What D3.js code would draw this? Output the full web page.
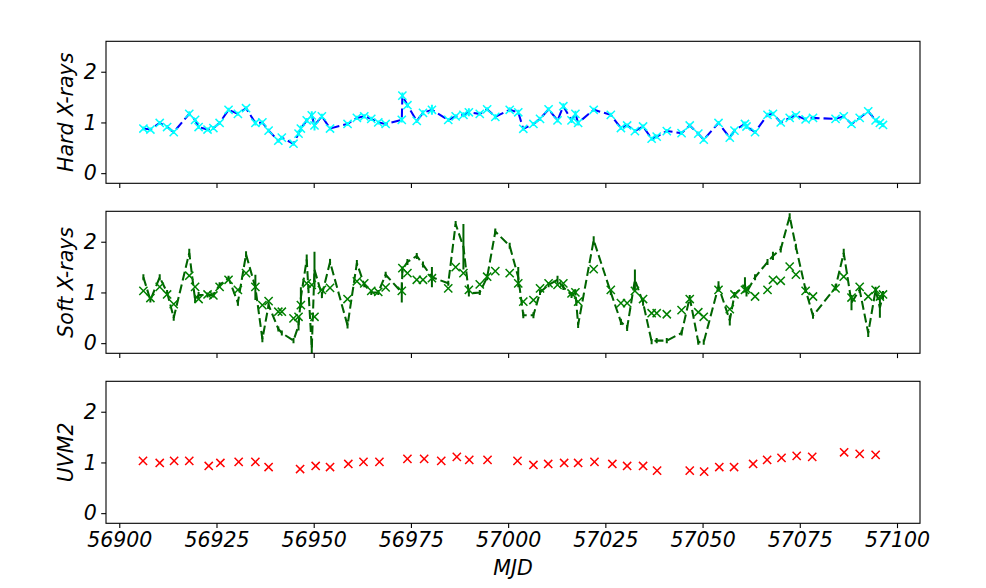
<!DOCTYPE html>
<html>
<head>
<meta charset="utf-8">
<script src="https://cdn.jsdelivr.net/npm/d3@7"></script>
<style>
  body { margin: 0; background: #fff; }
  text { font-family: 'DejaVu Sans', sans-serif; font-style: italic; }
</style>
</head>
<body>
<div id="chart"></div>
<script>
'use strict';

// X-ray observation times (MJD), shared by hard and soft bands
var xrayMjd = [
  56906.2, 56908.0, 56910.4, 56912.3, 56914.0, 56918.0, 56919.5, 56920.4, 56922.7, 56924.2,
  56925.8, 56928.1, 56930.5, 56932.6, 56935.0, 56936.8, 56938.4, 56940.9, 56941.8, 56944.8,
  56946.1, 56946.7, 56948.2, 56949.5, 56950.2, 56952.1, 56954.2, 56958.7, 56961.1, 56963.0,
  56964.8, 56966.6, 56968.5, 56972.65, 56972.8, 56974.1, 56976.5, 56978.1, 56980.4, 56984.6,
  56986.5, 56988.5, 56989.9, 56992.7, 56994.6, 56996.7, 57000.4, 57002.6, 57003.9, 57006.5,
  57008.2, 57010.4, 57012.7, 57014.2, 57016.3, 57017.3, 57018.0, 57022.0, 57026.4, 57029.0,
  57030.6, 57032.6, 57034.7, 57036.9, 57038.2, 57040.8, 57044.6, 57046.7, 57048.9, 57050.3,
  57054.1, 57057.0, 57058.2, 57060.9, 57061.3, 57063.5, 57066.7, 57068.1, 57070.1, 57072.4,
  57074.0, 57076.5, 57078.4, 57084.2, 57086.3, 57088.3, 57090.4, 57092.6, 57094.5, 57095.6,
  57096.4
];

var hardFlux = [
  0.88, 0.86, 0.99, 0.91, 0.81, 1.17, 1.05, 0.91, 0.86, 0.89,
  0.99, 1.25, 1.17, 1.28, 0.99, 1.00, 0.84, 0.64, 0.70, 0.58,
  0.78, 0.88, 1.04, 1.14, 0.94, 1.12, 0.88, 0.97, 1.09, 1.12,
  1.07, 1.00, 0.97, 1.05, 1.53, 1.34, 1.03, 1.19, 1.25, 1.05,
  1.12, 1.15, 1.20, 1.17, 1.26, 1.11, 1.25, 1.20, 0.875, 0.97,
  1.07, 1.26, 1.04, 1.32, 1.04, 1.17, 0.99, 1.25, 1.15, 0.89,
  0.94, 0.83, 0.92, 0.68, 0.72, 0.83, 0.79, 0.94, 0.78, 0.66,
  0.99, 0.70, 0.84, 0.97, 0.92, 0.81, 1.15, 1.17, 1.00, 1.09,
  1.14, 1.06, 1.09, 1.07, 1.12, 0.97, 1.09, 1.22, 1.04, 0.99,
  0.95
];

var hardErr = [
  0.04, 0.04, 0.04, 0.04, 0.04, 0.05, 0.04, 0.04, 0.04, 0.04,
  0.04, 0.04, 0.04, 0.04, 0.05, 0.04, 0.04, 0.04, 0.04, 0.04,
  0.05, 0.06, 0.05, 0.08, 0.10, 0.05, 0.04, 0.04, 0.04, 0.04,
  0.04, 0.04, 0.04, 0.05, 0.06, 0.05, 0.04, 0.05, 0.10, 0.04,
  0.04, 0.05, 0.08, 0.04, 0.04, 0.05, 0.05, 0.05, 0.04, 0.04,
  0.04, 0.04, 0.04, 0.06, 0.05, 0.06, 0.05, 0.04, 0.04, 0.04,
  0.04, 0.04, 0.04, 0.04, 0.04, 0.04, 0.04, 0.04, 0.04, 0.04,
  0.04, 0.04, 0.04, 0.05, 0.05, 0.04, 0.04, 0.04, 0.04, 0.04,
  0.04, 0.04, 0.04, 0.04, 0.04, 0.04, 0.04, 0.04, 0.04, 0.04,
  0.04
];

// soft band: markers and dashed line
var softFlux = [
  1.03, 0.89, 1.11, 0.96, 0.77, 1.33, 1.11, 0.87, 0.96, 0.94,
  1.11, 1.25, 1.05, 1.38, 1.11, 0.75, 0.83, 0.62, 0.62, 0.49,
  0.52, 0.75, 1.18, 1.15, 0.52, 1.05, 1.09, 0.87, 1.22, 1.18,
  1.03, 1.01, 1.10, 1.03, 1.48, 1.38, 1.25, 1.25, 1.28, 1.08,
  1.50, 1.38, 1.05, 1.16, 1.31, 1.42, 1.38, 1.18, 0.82, 0.85,
  1.08, 1.18, 1.15, 1.18, 0.98, 1.00, 0.82, 1.46, 1.05, 0.79,
  0.79, 1.03, 0.87, 0.59, 0.59, 0.57, 0.65, 0.87, 0.61, 0.52,
  1.05, 0.67, 0.96, 1.05, 1.07, 0.92, 1.05, 1.25, 1.23, 1.51,
  1.35, 1.03, 0.92, 1.08, 1.31, 0.90, 1.11, 0.92, 1.05, 0.92,
  0.96
];

var softLine = [
  1.30, 0.85, 1.30, 1.00, 0.50, 1.78, 0.85, 0.95, 0.95, 0.95,
  1.15, 1.28, 0.80, 1.75, 1.10, 0.08, 0.75, 0.28, 0.20, 0.05,
  0.35, 0.90, 1.65, -0.10, 1.45, 0.95, 1.60, 0.35, 1.58, 1.15,
  1.00, 1.00, 1.35, 1.00, 1.45, 1.60, 1.72, 1.55, 1.30, 1.18,
  2.35, 1.90, 0.98, 1.00, 1.30, 2.20, 1.92, 1.30, 0.55, 0.55,
  1.00, 1.15, 1.25, 1.10, 0.95, 1.00, 0.36, 2.03, 1.00, 0.42,
  0.30, 1.25, 0.80, 0.03, 0.05, 0.05, 0.20, 0.90, 0.02, 0.02,
  1.12, 0.45, 0.95, 1.15, 1.00, 1.30, 1.60, 1.72, 1.85, 2.50,
  1.90, 1.05, 0.54, 1.10, 1.78, 0.80, 1.05, 0.20, 1.05, 0.70,
  0.95
];

var softErr = [
  0.06, 0.05, 0.06, 0.05, 0.06, 0.08, 0.06, 0.06, 0.05, 0.05,
  0.05, 0.05, 0.06, 0.06, 0.25, 0.06, 0.05, 0.05, 0.05, 0.05,
  0.10, 0.20, 0.10, 0.15, 0.35, 0.06, 0.06, 0.06, 0.06, 0.05,
  0.05, 0.05, 0.06, 0.20, 0.06, 0.06, 0.06, 0.06, 0.20, 0.05,
  0.06, 0.45, 0.06, 0.05, 0.06, 0.06, 0.06, 0.20, 0.06, 0.06,
  0.05, 0.05, 0.08, 0.05, 0.06, 0.06, 0.06, 0.08, 0.05, 0.06,
  0.06, 0.20, 0.06, 0.05, 0.05, 0.05, 0.05, 0.05, 0.05, 0.05,
  0.10, 0.10, 0.06, 0.15, 0.08, 0.06, 0.06, 0.08, 0.06, 0.06,
  0.06, 0.06, 0.06, 0.06, 0.08, 0.15, 0.06, 0.08, 0.06, 0.20,
  0.08
];

// UVM2 times and flux
var uvMjd = [
  56906.1, 56910.4, 56914.1, 56918.0, 56923.0, 56926.0, 56930.7, 56935.0, 56938.4, 56946.5,
  56950.5, 56954.2, 56958.9, 56962.8, 56966.9, 56974.1, 56978.4, 56982.8, 56986.8, 56990.0,
  56994.7, 57002.4, 57006.5, 57010.3, 57014.4, 57018.0, 57022.2, 57026.8, 57030.6, 57034.7,
  57038.3, 57046.7, 57050.4, 57054.3, 57058.1, 57063.0, 57066.6, 57070.3, 57074.2, 57078.2,
  57086.4, 57090.4, 57094.5
];

var uvFlux = [
  1.03, 0.99, 1.03, 1.03, 0.93, 0.99, 1.01, 1.01, 0.91, 0.87,
  0.93, 0.91, 0.97, 1.01, 1.01, 1.07, 1.07, 1.03, 1.11, 1.05,
  1.05, 1.03, 0.95, 0.97, 0.99, 0.99, 1.01, 0.97, 0.93, 0.93,
  0.84, 0.84, 0.82, 0.91, 0.91, 0.97, 1.05, 1.09, 1.13, 1.11,
  1.20, 1.17, 1.15
];

var panelLabels = [ 'Hard X-rays', 'Soft X-rays', 'UVM2' ];
var xTicks = [ 56900, 56925, 56950, 56975, 57000, 57025, 57050, 57075, 57100 ];
var yTicks = [ 0, 1, 2 ];

var width = 986,
    height = 588,
    left = 106,
    right = 920,
    panelTops = [ 41.3, 211.3, 381.3 ],
    panelHeight = 142,
    fontSize = 20.5;

var svg = d3.select( '#chart' )
  .append( 'svg' )
    .attr( 'width', width )
    .attr( 'height', height );

// x limits like matplotlib autoscale: data extent padded by 5%
var allMjd = xrayMjd.concat( uvMjd );
var xMin = d3.min( allMjd ),
    xMax = d3.max( allMjd ),
    pad = ( xMax - xMin ) * 0.05;

var x = d3.scaleLinear()
  .domain( [ xMin - pad, xMax + pad ] )
  .range( [ left, right ] );

function xCross( g, data, xs, ys, color ) {
  var s = 4.1;
  g.selectAll( null )
    .data( data )
    .enter()
    .append( 'path' )
      .attr( 'd', function( d, i ) {
        var cx = x( xs[i] ), cy = ys( d );
        return 'M' + ( cx - s ) + ',' + ( cy - s ) + 'L' + ( cx + s ) + ',' + ( cy + s ) +
               'M' + ( cx - s ) + ',' + ( cy + s ) + 'L' + ( cx + s ) + ',' + ( cy - s );
      } )
      .style( 'stroke', color )
      .style( 'stroke-width', 1.5 )
      .style( 'fill', 'none' );
}

function errBars( g, vals, errs, xs, ys, color, w ) {
  g.selectAll( null )
    .data( vals )
    .enter()
    .append( 'line' )
      .attr( 'x1', function( d, i ) { return x( xs[i] ); } )
      .attr( 'x2', function( d, i ) { return x( xs[i] ); } )
      .attr( 'y1', function( d, i ) { return ys( d - errs[i] ); } )
      .attr( 'y2', function( d, i ) { return ys( d + errs[i] ); } )
      .style( 'stroke', color )
      .style( 'stroke-width', w );
}

function dashedLine( g, vals, xs, ys, color ) {
  var line = d3.line()
    .x( function( d, i ) { return x( xs[i] ); } )
    .y( function( d ) { return ys( d ); } );
  g.append( 'path' )
    .datum( vals )
    .attr( 'd', line )
    .style( 'fill', 'none' )
    .style( 'stroke', color )
    .style( 'stroke-width', 2.05 )
    .style( 'stroke-dasharray', '9,4' );
}

panelTops.forEach( function( top, p ) {
  var y = d3.scaleLinear()
    .domain( [ -0.2, 2.6 ] )
    .range( [ top + panelHeight, top ] );

  var g = svg.append( 'g' );

  svg.append( 'clipPath' )
    .attr( 'id', 'clip' + p )
    .append( 'rect' )
      .attr( 'x', left )
      .attr( 'y', top )
      .attr( 'width', right - left )
      .attr( 'height', panelHeight );

  var plot = g.append( 'g' ).attr( 'clip-path', 'url(#clip' + p + ')' );

  if ( p === 0 ) {
    dashedLine( plot, hardFlux, xrayMjd, y, '#0000ff' );
    errBars( plot, hardFlux, hardErr, xrayMjd, y, '#00ffff', 2 );
    xCross( plot, hardFlux, xrayMjd, y, '#00ffff' );
  } else if ( p === 1 ) {
    dashedLine( plot, softLine, xrayMjd, y, '#006400' );
    errBars( plot, softLine, softErr, xrayMjd, y, '#006400', 2 );
    xCross( plot, softFlux, xrayMjd, y, '#008000' );
  } else {
    xCross( plot, uvFlux, uvMjd, y, '#ff0000' );
  }

  // axes
  var xAxis = d3.axisBottom( x )
    .tickValues( xTicks )
    .tickSizeInner( 4.8 )
    .tickSizeOuter( 0 )
    .tickPadding( 4 )
    .tickFormat( p === 2 ? d3.format( 'd' ) : function() { return ''; } );

  var yAxis = d3.axisLeft( y )
    .tickValues( yTicks )
    .tickSizeInner( 4.8 )
    .tickSizeOuter( 0 )
    .tickPadding( 4.5 )
    .tickFormat( d3.format( 'd' ) );

  var gx = g.append( 'g' )
    .attr( 'transform', 'translate( 0,' + ( top + panelHeight ) + ' )' )
    .call( xAxis );
  var gy = g.append( 'g' )
    .attr( 'transform', 'translate( ' + left + ',0 )' )
    .call( yAxis );

  [ gx, gy ].forEach( function( a ) {
    a.select( '.domain' ).remove();
    a.selectAll( '.tick line' )
      .style( 'stroke', '#000' )
      .style( 'stroke-width', 1.1 );
    a.selectAll( '.tick text' )
      .style( 'font-family', "'DejaVu Sans', sans-serif" )
      .style( 'font-style', 'italic' )
      .style( 'font-size', fontSize + 'px' )
      .style( 'fill', '#000' );
  } );

  g.append( 'rect' )
    .attr( 'x', left )
    .attr( 'y', top )
    .attr( 'width', right - left )
    .attr( 'height', panelHeight )
    .style( 'fill', 'none' )
    .style( 'stroke', '#000' )
    .style( 'stroke-width', 1.1 );

  g.append( 'text' )
    .attr( 'transform', 'translate( 73,' + ( top + panelHeight / 2 ) + ' ) rotate( -90 )' )
    .style( 'text-anchor', 'middle' )
    .style( 'font-size', fontSize + 'px' )
    .text( panelLabels[p] );
} );

svg.append( 'text' )
  .attr( 'x', ( left + right ) / 2 )
  .attr( 'y', 575 )
  .style( 'text-anchor', 'middle' )
  .style( 'font-size', fontSize + 'px' )
  .text( 'MJD' );
</script>
</body>
</html>
